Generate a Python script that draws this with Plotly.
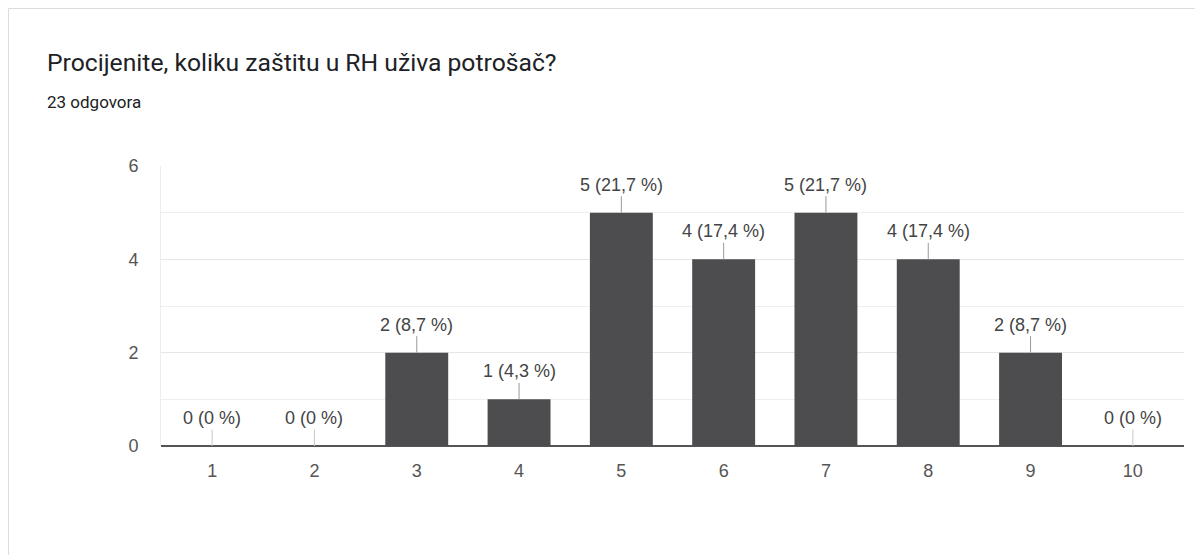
import plotly.graph_objects as go

categories = ["1", "2", "3", "4", "5", "6", "7", "8", "9", "10"]
counts = [0, 0, 2, 1, 5, 4, 5, 4, 2, 0]
percent_labels = ["0 %", "0 %", "8,7 %", "4,3 %", "21,7 %", "17,4 %", "21,7 %", "17,4 %", "8,7 %", "0 %"]
y_ticks = [0, 2, 4, 6]
title_text = "Procijenite, koliku zaštitu u RH uživa potrošač?"
subtitle_text = "23 odgovora"

# page body has an 8px margin; work in figure coordinates
OFF = 8
W, H = 1203 - OFF, 555 - OFF
L, R, T, B = 161 - OFF, 19, 166 - OFF, 109
pw = W - L - R
ph = H - T - B

def px_x(p):
    return (p - OFF - L) / pw

def px_y(p):
    return (H - B - (p - OFF)) / ph

fig = go.Figure()
fig.add_trace(go.Bar(
    x=categories, y=counts,
    marker=dict(color="#4d4d4f", line=dict(width=0)),
    hoverinfo="skip",
))

annotations = []
for i, (c, v, p) in enumerate(zip(categories, counts, percent_labels)):
    annotations.append(dict(
        x=i, y=v, xref="x", yref="y",
        text=f"{v} ({p})",
        showarrow=True, arrowhead=0, arrowwidth=1,
        arrowcolor="#9a9a9a" if v > 0 else "#c8c8c8",
        ax=0, ay=-28,
        font=dict(family="Arial", size=18, color="#444444"),
    ))

annotations.append(dict(
    text=title_text, xref="paper", yref="paper",
    x=px_x(45), y=px_y(62), xanchor="left", yanchor="middle",
    showarrow=False, font=dict(family="Roboto", size=24.7, color="#202124"),
))
annotations.append(dict(
    text=subtitle_text, xref="paper", yref="paper",
    x=px_x(45), y=px_y(102), xanchor="left", yanchor="middle",
    showarrow=False, font=dict(family="Roboto", size=17, color="#202124"),
))

fig.update_layout(
    width=W, height=H,
    margin=dict(l=L, r=R, t=T, b=B),
    paper_bgcolor="white", plot_bgcolor="white",
    bargap=0.385,
    showlegend=False,
    annotations=annotations,
    shapes=[dict(
        type="rect", xref="paper", yref="paper",
        x0=px_x(8.5), x1=px_x(1225), y0=px_y(580), y1=px_y(8.5),
        line=dict(color="#dadce0", width=1), fillcolor="rgba(0,0,0,0)",
        layer="below",
    )],
)

fig.update_xaxes(
    type="category",
    showgrid=False, ticks="", ticklabelstandoff=12,
    tickfont=dict(family="Arial", size=18, color="#555555"),
    showline=False, zeroline=False,
)
fig.update_yaxes(
    range=[0, 6], tickvals=y_ticks,
    showgrid=True, gridcolor="#e6e6e6", gridwidth=1,
    minor=dict(dtick=1, showgrid=True, gridcolor="#efefef", gridwidth=1),
    zeroline=True, zerolinecolor="#555555", zerolinewidth=2,
    showline=True, linecolor="#ededed", linewidth=1,
    ticks="", ticklabelstandoff=18,
    tickfont=dict(family="Arial", size=18, color="#555555"),
)

fig.write_html("out.html")
